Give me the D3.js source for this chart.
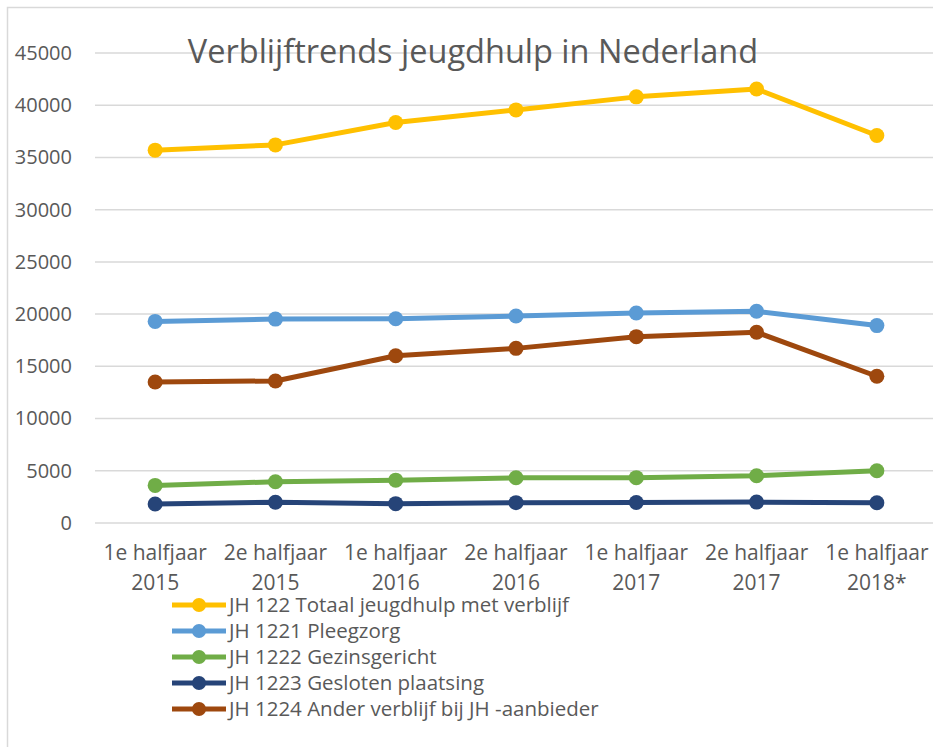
<!DOCTYPE html>
<html>
<head>
<meta charset="utf-8">
<script src="https://cdn.jsdelivr.net/npm/d3@7"></script>
<style>
  body { margin: 0; background: #fff; }
  svg text { font-family: 'Open Sans', sans-serif; fill: #595959; }
</style>
</head>
<body>
<script>
var periods = [
  ['1e halfjaar', '2015'],
  ['2e halfjaar', '2015'],
  ['1e halfjaar', '2016'],
  ['2e halfjaar', '2016'],
  ['1e halfjaar', '2017'],
  ['2e halfjaar', '2017'],
  ['1e halfjaar', '2018*']
];
var yTicks = [0, 5000, 10000, 15000, 20000, 25000, 30000, 35000, 40000, 45000];

var totaal = [35700, 36200, 38350, 39550, 40800, 41550, 37100];
var pleegzorg = [19300, 19520, 19560, 19820, 20100, 20270, 18900];
var gezinsgericht = [3600, 3950, 4100, 4330, 4340, 4530, 5000];
var gesloten = [1820, 1980, 1850, 1950, 1960, 2000, 1940];
var anderVerblijf = [13500, 13600, 16020, 16720, 17840, 18260, 14050];

var seriesNames = [
  'JH 122 Totaal jeugdhulp met verblijf',
  'JH 1221 Pleegzorg',
  'JH 1222 Gezinsgericht',
  'JH 1223 Gesloten plaatsing',
  'JH 1224 Ander verblijf bij JH -aanbieder'
];
var seriesColors = ['#FFC000', '#5B9BD5', '#70AD47', '#264478', '#9E480E'];
var seriesValues = [totaal, pleegzorg, gezinsgericht, gesloten, anderVerblijf];

var w = 933;
var h = 747;

var svg = d3
  .select('body')
  .append('svg')
  .attr('width', w)
  .attr('height', h);

// chart frame
svg
  .append('rect')
  .attr('x', 7.5)
  .attr('y', 7.5)
  .attr('width', w + 20)
  .attr('height', h + 20)
  .attr('fill', 'none')
  .attr('stroke', '#d9d9d9')
  .attr('stroke-width', 1.5);

var xScale = d3
  .scaleBand()
  .domain(d3.range(periods.length))
  .range([95, 937]);

var yScale = d3
  .scaleLinear()
  .domain([0, 45000])
  .range([523, 53]);

var cx = i => xScale(i) + xScale.bandwidth() / 2;

// gridlines
svg
  .append('g')
  .selectAll('line')
  .data(yTicks)
  .enter()
  .append('line')
  .attr('x1', 95)
  .attr('x2', w)
  .attr('y1', d => yScale(d))
  .attr('y2', d => yScale(d))
  .attr('stroke', '#d9d9d9')
  .attr('stroke-width', 1.5);

var yAxis = d3
  .axisLeft(yScale)
  .tickValues(yTicks)
  .tickFormat(d3.format('d'))
  .tickSize(0)
  .tickPadding(0);
var yAxisG = svg
  .append('g')
  .attr('transform', 'translate(72, 0)')
  .call(yAxis);
yAxisG.select('.domain').remove();
yAxisG.selectAll('text')
  .attr('font-size', 20)
  .attr('font-family', null)
  .attr('fill', null);

// x labels, two lines each
var xLabelG = svg.append('g');
xLabelG
  .selectAll('text.l1')
  .data(periods)
  .enter()
  .append('text')
  .attr('class', 'l1')
  .attr('text-anchor', 'middle')
  .attr('font-size', 21)
  .attr('x', (d, i) => cx(i))
  .attr('y', 560)
  .text(d => d[0]);
xLabelG
  .selectAll('text.l2')
  .data(periods)
  .enter()
  .append('text')
  .attr('class', 'l2')
  .attr('text-anchor', 'middle')
  .attr('font-size', 21)
  .attr('x', (d, i) => cx(i))
  .attr('y', 590)
  .text(d => d[1]);

var line = d3
  .line()
  .x((d, i) => cx(i))
  .y(d => yScale(d));

var seriesG = svg
  .append('g')
  .selectAll('g')
  .data(seriesValues)
  .enter()
  .append('g');

seriesG
  .append('path')
  .attr('d', d => line(d))
  .attr('fill', 'none')
  .attr('stroke', (d, i) => seriesColors[i])
  .attr('stroke-width', 5)
  .attr('stroke-linejoin', 'round');

seriesG.each(function(vals, si) {
  d3.select(this)
    .selectAll('circle')
    .data(vals)
    .enter()
    .append('circle')
    .attr('cx', (d, i) => cx(i))
    .attr('cy', d => yScale(d))
    .attr('r', 7.5)
    .attr('fill', seriesColors[si]);
});

// title
svg
  .append('text')
  .attr('x', 473)
  .attr('y', 63)
  .attr('text-anchor', 'middle')
  .attr('font-size', 32.5)
  .text('Verblijftrends jeugdhulp in Nederland');

// legend
var legend = svg
  .append('g')
  .selectAll('g')
  .data(seriesNames)
  .enter()
  .append('g')
  .attr('transform', (d, i) => `translate(172, ${605 + i * 26})`);

legend
  .append('line')
  .attr('x1', 0)
  .attr('x2', 54)
  .attr('stroke', (d, i) => seriesColors[i])
  .attr('stroke-width', 5);

legend
  .append('circle')
  .attr('cx', 27)
  .attr('r', 7)
  .attr('fill', (d, i) => seriesColors[i]);

legend
  .append('text')
  .attr('x', 57)
  .attr('dy', '0.35em')
  .attr('font-size', 20.5)
  .text(d => d);
</script>
</body>
</html>
